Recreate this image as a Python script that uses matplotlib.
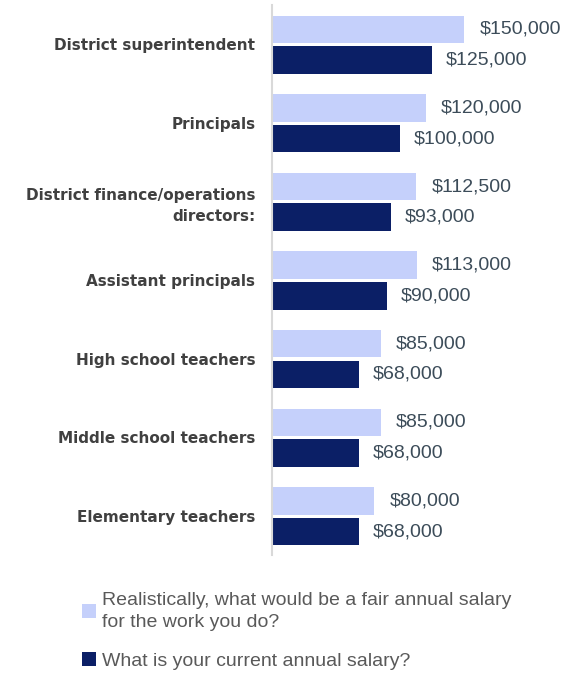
import numpy as np
import matplotlib.pyplot as plt
from matplotlib.patches import Patch

roles = ['District superintendent', 'Principals',
         'District finance/operations\ndirectors:', 'Assistant principals',
         'High school teachers', 'Middle school teachers', 'Elementary teachers']
fair_salary = [150000, 120000, 112500, 113000, 85000, 85000, 80000]
current_salary = [125000, 100000, 93000, 90000, 68000, 68000, 68000]
legend_labels = ['Realistically, what would be a fair annual salary\nfor the work you do?',
                 'What is your current annual salary?']

light = '#C5D0FB'
dark = '#0B1F66'

fig = plt.figure(figsize=(5.74, 6.77), dpi=100)
ax = fig.add_axes([0.474, 0.180, 0.526, 0.8126])

y = np.arange(len(roles))
h = 0.35
ax.barh(y - 0.19, fair_salary, height=h, color=light)
ax.barh(y + 0.2, current_salary, height=h, color=dark)

for yi, v in zip(y, fair_salary):
    ax.annotate('${:,}'.format(v), (v, yi - 0.19), xytext=(11, 0),
                textcoords='offset points', va='center', ha='left',
                fontsize=14, color='#3C4C59', family='Liberation Sans')
for yi, v in zip(y, current_salary):
    ax.annotate('${:,}'.format(v), (v, yi + 0.2), xytext=(10, 0),
                textcoords='offset points', va='center', ha='left',
                fontsize=14, color='#3C4C59', family='Liberation Sans')

ax.set_xlim(0, 236000)
ax.set_ylim(6.5, -0.5)
ax.set_yticks(y)
ax.set_yticklabels(roles, fontsize=11, fontweight='bold', color='#404040',
                   family='DejaVu Sans', ha='right', linespacing=1.5)
ax.tick_params(axis='y', length=0, pad=12)
ax.set_xticks([])
for s in ['top', 'right', 'bottom']:
    ax.spines[s].set_visible(False)
ax.spines['left'].set_color('#D9D9D9')
ax.spines['left'].set_linewidth(1.5)

handles = [Patch(facecolor=light), Patch(facecolor=dark)]
leg = fig.legend(handles, legend_labels, loc='upper left', bbox_to_anchor=(0.13, 0.137),
                 frameon=False, handlelength=0.7, handleheight=0.7, handletextpad=0.3,
                 labelspacing=1.1, borderaxespad=0,
                 prop={'family': 'Liberation Sans', 'size': 14}, labelcolor='#595959')
for t in leg.get_texts():
    t.set_linespacing(1.35)

fig.savefig('out.png', dpi=100)
